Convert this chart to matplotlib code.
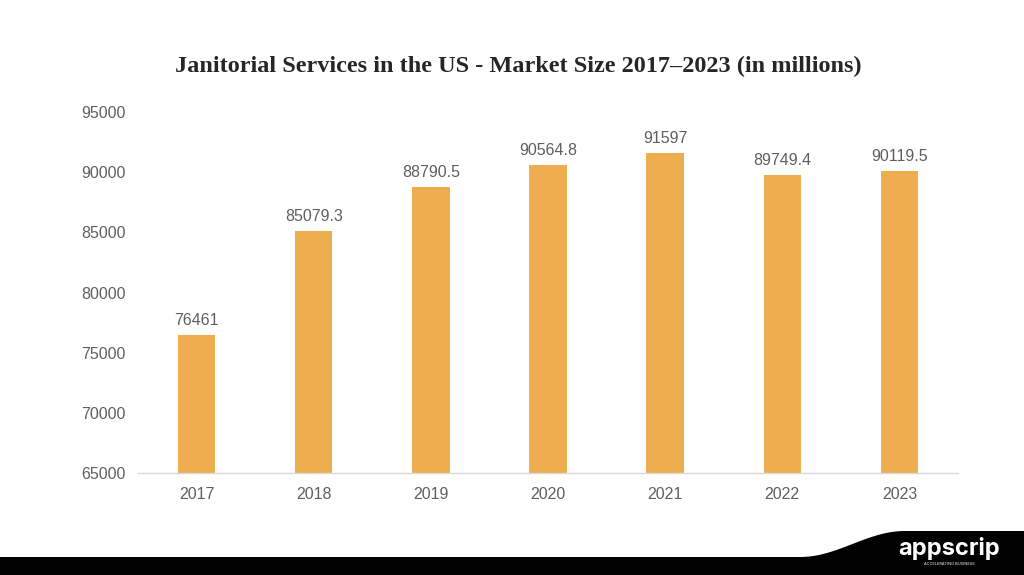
import matplotlib
matplotlib.use("Agg")
import matplotlib.pyplot as plt
import numpy as np
from matplotlib.patches import Polygon

years = ["2017", "2018", "2019", "2020", "2021", "2022", "2023"]
values = [76461, 85079.3, 88790.5, 90564.8, 91597, 89749.4, 90119.5]
value_labels = ["76461", "85079.3", "88790.5", "90564.8", "91597", "89749.4", "90119.5"]
yticks = [65000, 70000, 75000, 80000, 85000, 90000, 95000]

W, H = 1024, 575
fig = plt.figure(figsize=(W / 100, H / 100), dpi=100)
fig.patch.set_facecolor("white")

ax = fig.add_axes([138 / W, 1 - 473 / H, (958 - 138) / W, (473 - 112) / H])
x = np.arange(len(years))
bar_color = "#EEAD4E"
ax.bar(x, values, width=0.32, color=bar_color, zorder=2)
ax.set_xlim(-0.5, len(years) - 0.5)
ax.set_ylim(65000, 95000)
ax.set_yticks(yticks)
ax.set_yticklabels([str(t) for t in yticks])
ax.set_xticks(x)
ax.set_xticklabels(years)

label_color = "#5f5f5f"
for s in ["top", "right", "left"]:
    ax.spines[s].set_visible(False)
ax.spines["bottom"].set_color("#D9D9D9")
ax.spines["bottom"].set_linewidth(1.0)
ax.tick_params(axis="both", length=0, labelsize=11.5, labelcolor=label_color,
               labelfontfamily="Liberation Sans")
ax.tick_params(axis="y", pad=9)
ax.tick_params(axis="x", pad=10)

for xi, v, lab in zip(x, values, value_labels):
    ax.annotate(lab, (xi, v), xytext=(0, 5), textcoords="offset points",
                ha="center", va="bottom", fontsize=11.5, color=label_color,
                family="Liberation Sans")

fig.text(518 / W, 1 - 66 / H,
         "Janitorial Services in the US - Market Size 2017\u20132023 (in millions)",
         ha="center", va="center", fontsize=17.5, fontweight="bold",
         family="Liberation Serif", color="#262626")

# bottom black band with wave
xs = np.linspace(800, 905, 40)
t = (xs - 800) / 105
ys = 557 - (557 - 531) * (0.5 - 0.5 * np.cos(np.pi * t))
pts = [(0, 575), (0, 557)] + list(zip(xs, ys)) + [(W, 531), (W, 575)]
pts = [(px / W, 1 - py / H) for px, py in pts]
fig.patches.append(Polygon(pts, closed=True, transform=fig.transFigure,
                           facecolor="black", edgecolor="none"))
fig.text(949 / W, 1 - 549 / H, "appscrip", ha="center", va="center",
         fontsize=17, fontweight="bold", color="white", family="Inter")
fig.text(949 / W, 1 - 564 / H, "ACCELERATING BUSINESS", ha="center", va="center",
         fontsize=2.8, color="white", family="Inter")

fig.savefig("out.png", dpi=100)
